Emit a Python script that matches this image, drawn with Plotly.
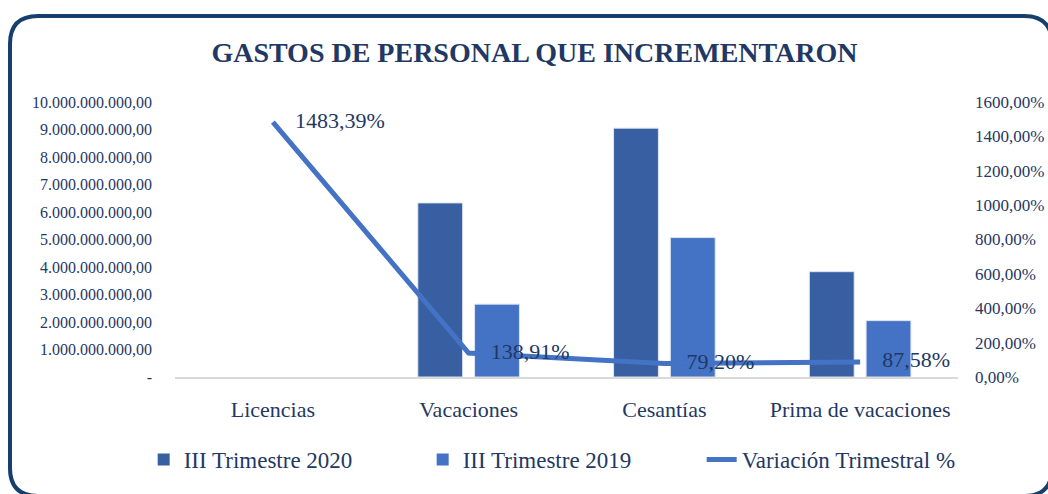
import plotly.graph_objects as go

categories = ["Licencias", "Vacaciones", "Cesantías", "Prima de vacaciones"]
trim_2020 = [100_000, 6_330_000_000, 9_050_000_000, 3_830_000_000]
trim_2019 = [6_317, 2_650_000_000, 5_070_000_000, 2_050_000_000]
variacion = [1483.39, 138.91, 79.20, 87.58]
variacion_labels = ["1483,39%", "138,91%", "79,20%", "87,58%"]

left_tickvals = [i * 1_000_000_000 for i in range(11)]
left_ticktext = ["-"] + [f"{i}.000.000.000,00" for i in range(1, 11)]
right_tickvals = list(range(0, 1601, 200))
right_ticktext = [f"{v},00%" for v in right_tickvals]

W, H = 1048, 494
ML, MR, MT, MB = 175, 90, 102, 117
PW, PH = W - ML - MR, H - MT - MB

NAVY = "#1F3864"
DARK = "#375FA2"
LIGHT = "#4472C4"
FONT = "Liberation Serif"

fig = go.Figure()
fig.add_trace(go.Bar(x=categories, y=trim_2020, name="III Trimestre 2020",
                     marker=dict(color=DARK, line=dict(color="#DDE4F0", width=[0, 1, 1, 1]))))
fig.add_trace(go.Bar(x=categories, y=trim_2019, name="III Trimestre 2019",
                     marker=dict(color=LIGHT, line=dict(color="#DDE4F0", width=[0, 1, 1, 1]))))
fig.add_trace(go.Scatter(x=categories, y=variacion, name="Variación Trimestral %",
                         yaxis="y2", mode="lines+text", text=variacion_labels,
                         texttemplate="    %{text}",
                         textposition="middle right",
                         textfont=dict(family=FONT, size=22, color=NAVY),
                         line=dict(color=LIGHT, width=5)))

def P(x, y):
    X, Y = (x - ML) / PW, (MT + PH - y) / PH
    return f"{X:.5f},{Y:.5f}"

x0, y0, x1, y1, r = 10, 16, 1052, 496, 28
path = (f"M {P(x0, y0 + r)} L {P(x0, y1 - r)} Q {P(x0, y1)} {P(x0 + r, y1)} "
        f"L {P(x1 - r, y1)} Q {P(x1, y1)} {P(x1, y1 - r)} L {P(x1, y0 + r)} "
        f"Q {P(x1, y0)} {P(x1 - r, y0)} L {P(x0 + r, y0)} Q {P(x0, y0)} {P(x0, y0 + r)} Z")

fig.update_layout(
    width=W, height=H,
    margin=dict(l=ML, r=MR, t=MT, b=MB, autoexpand=False),
    paper_bgcolor="white", plot_bgcolor="white",
    barmode="group", bargap=0.42, bargroupgap=0.21,
    title=dict(text="<b>GASTOS DE PERSONAL QUE INCREMENTARON</b>",
               font=dict(family=FONT, size=28, color=NAVY),
               x=0.51, xanchor="center", y=1 - 52 / H, yanchor="middle"),
    font=dict(family=FONT, color=NAVY),
    xaxis=dict(showgrid=False, showline=True, linecolor="#D9D9D9", linewidth=2,
               ticks="", tickfont=dict(size=22, color=NAVY), ticklabelstandoff=12,
               automargin=False, layer="above traces"),
    yaxis=dict(range=[0, 10_000_000_000], tickvals=left_tickvals, ticktext=left_ticktext,
               showgrid=False, zeroline=False, showline=False,
               tickfont=dict(size=16, color=NAVY), ticklabelstandoff=22, automargin=False),
    yaxis2=dict(range=[0, 1600], overlaying="y", side="right",
                tickvals=right_tickvals, ticktext=right_ticktext,
                showgrid=False, zeroline=False, showline=False,
                tickfont=dict(size=17, color=NAVY), ticklabelstandoff=16, automargin=False),
    legend=dict(orientation="h", x=-0.04, xanchor="left",
                y=-0.30, yanchor="middle",
                font=dict(family=FONT, size=23, color=NAVY), entrywidth=234,
                itemwidth=30, bgcolor="rgba(0,0,0,0)"),
    showlegend=True,
    shapes=[dict(type="path", xref="paper", yref="paper", path=path,
                 line=dict(color="#173F6E", width=4), layer="above")],
)

fig.write_html("out.html", config={"displayModeBar": False},
               post_script="document.body.style.margin='0';document.body.style.overflow='hidden';")
